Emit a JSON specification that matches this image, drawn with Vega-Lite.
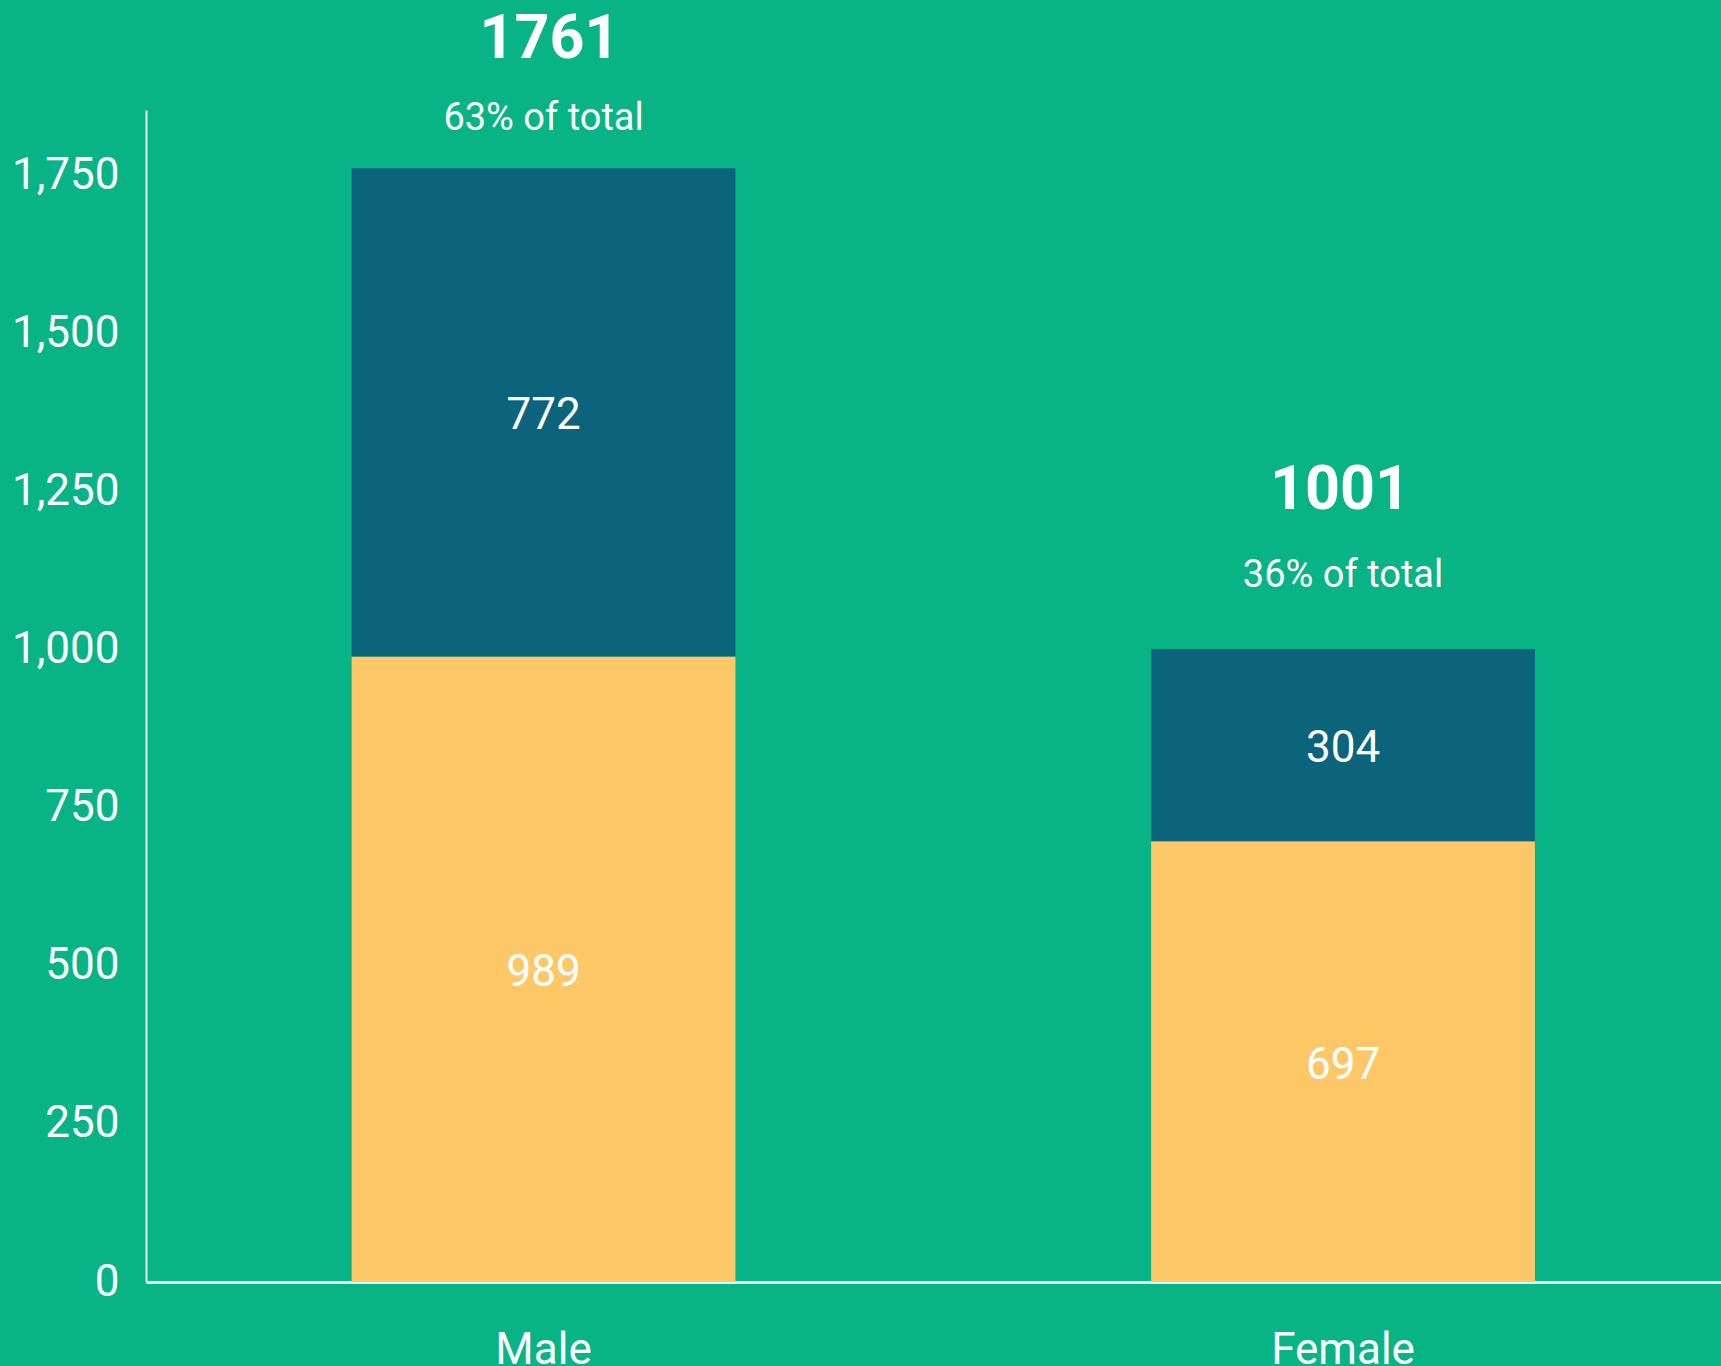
{
  "$schema": "https://vega.github.io/schema/vega-lite/v6.json",
  "width": 1575,
  "height": 1172,
  "autosize": {"type": "none"},
  "padding": {"left": 146, "top": 110, "right": 0, "bottom": 84},
  "background": "#08B486",
  "config": {"view": {"stroke": null}, "font": "Roboto"},
  "datasets": {
    "segments": [
      {"gender": "Male", "series": "Series 1", "value": 989},
      {"gender": "Male", "series": "Series 2", "value": 772},
      {"gender": "Female", "series": "Series 1", "value": 697},
      {"gender": "Female", "series": "Series 2", "value": 304}
    ],
    "totals": [
      {"gender": "Male", "total": 1761, "share": "63% of total"},
      {"gender": "Female", "total": 1001, "share": "36% of total"}
    ]
  },
  "encoding": {
    "x": {
      "field": "gender",
      "type": "nominal",
      "sort": ["Male", "Female"],
      "scale": {"paddingInner": 0.52, "paddingOuter": 0.245, "align": 0.525},
      "axis": {
        "title": null,
        "labelAngle": 0,
        "labelFontSize": 44,
        "labelColor": "#FFFFFF",
        "labelPadding": 46,
        "ticks": false,
        "tickSize": 0,
        "domainColor": "#E6F4EE",
        "domainWidth": 3,
        "grid": false
      }
    }
  },
  "layer": [
    {
      "data": {"name": "segments"},
      "mark": {"type": "bar"},
      "encoding": {
        "y": {
          "field": "value",
          "type": "quantitative",
          "stack": "zero",
          "scale": {"domain": [0, 1853], "nice": false},
          "axis": {
            "title": null,
            "values": [0, 250, 500, 750, 1000, 1250, 1500, 1750],
            "labelFontSize": 44,
            "labelColor": "#FFFFFF",
            "labelPadding": 27,
            "ticks": false,
            "tickSize": 0,
            "grid": false,
            "domainColor": "#E6F4EE",
            "domainWidth": 2
          }
        },
        "color": {
          "field": "series",
          "type": "nominal",
          "scale": {"domain": ["Series 1", "Series 2"], "range": ["#FEC868", "#0C637C"]},
          "legend": null
        },
        "order": {"field": "series", "sort": "ascending"}
      }
    },
    {
      "data": {"name": "segments"},
      "transform": [
        {"stack": "value", "groupby": ["gender"], "sort": [{"field": "series", "order": "ascending"}], "as": ["v0", "v1"]},
        {"fold": ["v0", "v1"], "as": ["edge", "pos"]}
      ],
      "mark": {"type": "text", "fontSize": 44, "color": "#FFFFFF", "baseline": "middle", "align": "center", "dy": 4},
      "encoding": {
        "y": {"aggregate": "mean", "field": "pos", "type": "quantitative"},
        "text": {"aggregate": "max", "field": "value", "type": "quantitative"},
        "detail": {"field": "series", "type": "nominal"}
      }
    },
    {
      "data": {"name": "totals"},
      "transform": [{"filter": "datum.gender === 'Male'"}],
      "mark": {"type": "text", "fontSize": 61, "fontWeight": "bold", "color": "#FFFFFF", "baseline": "middle", "dy": -128, "dx": 6, "clip": false},
      "encoding": {
        "y": {"field": "total", "type": "quantitative"},
        "text": {"field": "total", "type": "nominal"}
      }
    },
    {
      "data": {"name": "totals"},
      "transform": [{"filter": "datum.gender === 'Male'"}],
      "mark": {"type": "text", "fontSize": 38, "color": "#FFFFFF", "baseline": "middle", "dy": -49, "clip": false},
      "encoding": {
        "y": {"field": "total", "type": "quantitative"},
        "text": {"field": "share", "type": "nominal"}
      }
    },
    {
      "data": {"name": "totals"},
      "transform": [{"filter": "datum.gender === 'Female'"}],
      "mark": {"type": "text", "fontSize": 61, "fontWeight": "bold", "color": "#FFFFFF", "baseline": "middle", "dy": -158, "dx": -3, "clip": false},
      "encoding": {
        "y": {"field": "total", "type": "quantitative"},
        "text": {"field": "total", "type": "nominal"}
      }
    },
    {
      "data": {"name": "totals"},
      "transform": [{"filter": "datum.gender === 'Female'"}],
      "mark": {"type": "text", "fontSize": 38, "color": "#FFFFFF", "baseline": "middle", "dy": -73, "clip": false},
      "encoding": {
        "y": {"field": "total", "type": "quantitative"},
        "text": {"field": "share", "type": "nominal"}
      }
    }
  ]
}
